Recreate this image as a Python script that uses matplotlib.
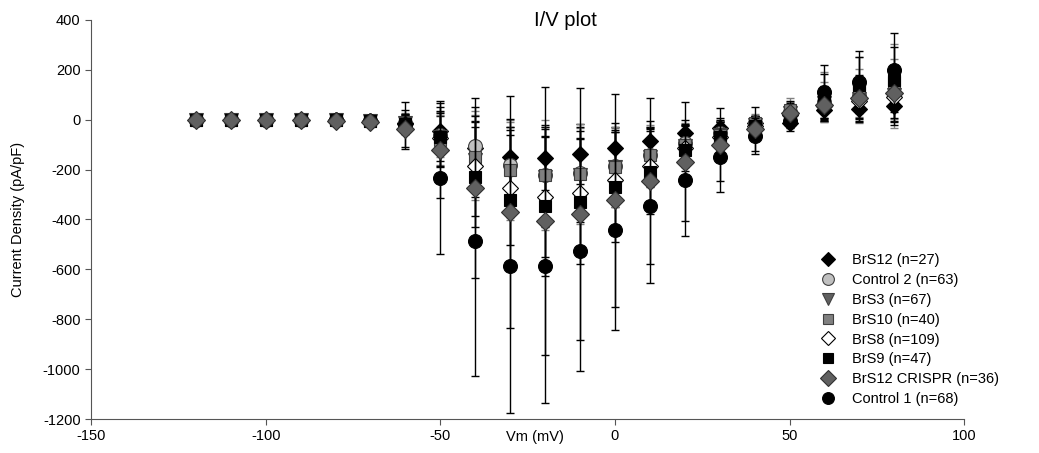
import matplotlib.pyplot as plt
from matplotlib.lines import Line2D

plt.rcParams["font.family"] = ["Liberation Sans", "DejaVu Sans"]
plt.rcParams["axes.unicode_minus"] = False

vm = [-120, -110, -100, -90, -80, -70, -60, -50, -40, -30, -20, -10, 0, 10, 20, 30, 40, 50, 60, 70, 80]

brs12 = [-1, -1, -1, -1, -2, -4, -12, -46, -115, -149, -152, -136, -112, -86, -55, -35, -12, -15, 38, 41, 54]
brs12_sd = [2, 2, 2, 2, 3, 5, 30, 60, 110, 120, 130, 120, 100, 80, 55, 40, 25, 20, 30, 40, 60]

control2 = [-1, -1, -1, -1, -2, -5, -15, -60, -105, -180, -220, -215, -185, -140, -95, -55, -15, 30, 70, 95, 105]
control2_sd = [2, 2, 2, 2, 3, 5, 35, 90, 140, 170, 190, 180, 150, 110, 80, 50, 30, 40, 80, 110, 140]

brs3 = [-1, -1, -1, -1, -2, -5, -15, -70, -160, -210, -230, -220, -190, -150, -105, -60, -20, 25, 65, 85, 100]
brs3_sd = [2, 2, 2, 2, 3, 5, 35, 95, 150, 180, 200, 190, 160, 120, 85, 55, 35, 40, 70, 95, 120]

brs10 = [-1, -1, -1, -1, -2, -5, -15, -80, -150, -202, -223, -218, -189, -142, -102, -62, -14, 38, 90, 130, 152]
brs10_sd = [2, 2, 2, 2, 3, 6, 40, 100, 170, 200, 220, 200, 160, 120, 80, 55, 35, 50, 100, 120, 150]

brs8 = [-1, -1, -1, -1, -2, -5, -18, -75, -185, -273, -309, -293, -240, -186, -115, -70, -25, 20, 55, 75, 90]
brs8_sd = [2, 2, 2, 2, 3, 6, 40, 110, 200, 230, 240, 220, 190, 140, 90, 60, 40, 40, 60, 80, 100]

brs9 = [-1, -1, -1, -1, -2, -5, -18, -70, -231, -320, -345, -328, -269, -209, -122, -70, -25, 10, 95, 140, 160]
brs9_sd = [2, 2, 2, 2, 3, 6, 40, 120, 200, 260, 280, 250, 220, 170, 100, 70, 40, 40, 90, 110, 130]

crispr = [-3, -3, -3, -3, -4, -8, -39, -122, -273, -370, -406, -379, -323, -245, -169, -100, -38, 25, 58, 88, 108]
crispr_sd = [3, 3, 3, 3, 4, 6, 77, 190, 360, 466, 536, 505, 427, 332, 238, 145, 89, 50, 60, 80, 100]

control1 = [-2, -2, -2, -2, -3, -5, -20, -232, -488, -586, -586, -527, -443, -345, -243, -149, -66, -6, 111, 152, 198]
control1_sd = [3, 3, 3, 3, 4, 6, 90, 305, 540, 590, 550, 480, 400, 310, 225, 140, 72, 40, 110, 125, 150]

# label, values, sd, marker, face, edge, errcolor, size, zorder
series = [
    ("BrS12 (n=27)", brs12, brs12_sd, "D", "black", "black", "black", 8, 3),
    ("Control 2 (n=63)", control2, control2_sd, "o", "#c0c0c0", "#404040", "#808080", 10, 3),
    ("BrS3 (n=67)", brs3, brs3_sd, "v", "#606060", "#404040", "black", 10, 3),
    ("BrS10 (n=40)", brs10, brs10_sd, "s", "#808080", "#404040", "#808080", 9, 3),
    ("BrS8 (n=109)", brs8, brs8_sd, "D", "white", "black", "black", 8, 3),
    ("BrS9 (n=47)", brs9, brs9_sd, "s", "black", "black", "black", 9, 3),
    ("BrS12 CRISPR (n=36)", crispr, crispr_sd, "D", "#606060", "#303030", "black", 9, 5),
    ("Control 1 (n=68)", control1, control1_sd, "o", "black", "black", "black", 10, 4),
]

fig = plt.figure(figsize=(10.39, 4.53), dpi=100)
ax = fig.add_axes([0.0876, 0.075, 0.8404, 0.881])

handles = []
for label, vals, sd, mk, fc, ec, errc, ms, z in series:
    ax.errorbar(vm, vals, yerr=sd, fmt="none", ecolor=errc, elinewidth=1,
                capsize=3, capthick=1, zorder=z - 1)
    ax.plot(vm, vals, linestyle="none", marker=mk, markersize=ms,
            markerfacecolor=fc, markeredgecolor=ec, markeredgewidth=0.8, zorder=z)
    handles.append(Line2D([], [], linestyle="none", marker=mk, markersize=ms * 0.85,
                          markerfacecolor=fc, markeredgecolor=ec, markeredgewidth=0.8,
                          label=label))

ax.set_xlim(-150, 100)
ax.set_ylim(-1200, 400)
ax.set_xticks([-150, -100, -50, 0, 50, 100])
ax.set_yticks(range(-1200, 401, 200))
ax.spines["top"].set_visible(False)
ax.spines["right"].set_visible(False)
for s in ("left", "bottom"):
    ax.spines[s].set_color("#555555")
ax.tick_params(direction="out", length=4, color="#555555", labelsize=10.5)

fig.text(18 / 1039, 1 - 219 / 453, "Current Density (pA/pF)", fontsize=10.5,
         rotation=90, ha="center", va="center")
fig.text(565 / 1039, 1 - 20 / 453, "I/V plot", fontsize=14.5, ha="center", va="center")
fig.text(535 / 1039, 1 - 437 / 453, "Vm (mV)", fontsize=10.5, ha="center", va="center")

fig.legend(handles=handles, loc="upper left", bbox_to_anchor=(0.781, 0.457),
           frameon=False, fontsize=10.5, labelspacing=0.4, handletextpad=1.1,
           borderpad=0, handlelength=1.2)

fig.savefig("out.png", dpi=100)
